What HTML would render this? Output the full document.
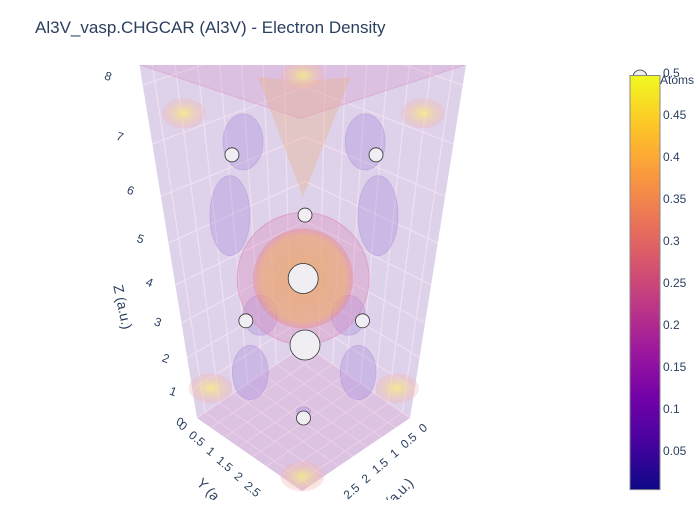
<!DOCTYPE html>
<html><head><meta charset="utf-8"><style>
html,body{margin:0;padding:0;background:#fff;}
svg text{font-family:"Liberation Sans",Arial,sans-serif;fill:#2a3f5f;}
</style></head><body>
<svg id="chart" width="700" height="500" viewBox="0 0 700 500" xmlns="http://www.w3.org/2000/svg">
<defs>
<linearGradient id="plasma" x1="0" y1="1" x2="0" y2="0">
<stop offset="0" stop-color="#0d0887"/><stop offset="0.111" stop-color="#46039f"/><stop offset="0.222" stop-color="#7201a8"/><stop offset="0.333" stop-color="#9c179e"/><stop offset="0.444" stop-color="#bd3786"/><stop offset="0.555" stop-color="#d8576b"/><stop offset="0.666" stop-color="#ed7953"/><stop offset="0.777" stop-color="#fb9f3a"/><stop offset="0.888" stop-color="#fdca26"/><stop offset="1" stop-color="#f0f921"/>
</linearGradient>
<radialGradient id="orangeG"><stop offset="0" stop-color="#e9a868" stop-opacity="0.75"/><stop offset="0.85" stop-color="#eeaa6a" stop-opacity="0.6"/><stop offset="1" stop-color="#e38a9a" stop-opacity="0.5"/></radialGradient>
<radialGradient id="yellowG"><stop offset="0" stop-color="#f7ef80" stop-opacity="0.8"/><stop offset="1" stop-color="#efb0b8" stop-opacity="0.3"/></radialGradient>
<clipPath id="sceneClip"><rect x="0" y="65" width="600" height="435"/></clipPath>
</defs>
<text x="35" y="33" font-size="17">Al3V_vasp.CHGCAR (Al3V) - Electron Density</text>
<g id="scene" clip-path="url(#sceneClip)"></g>
<g id="axes"></g>
<g id="legend">
<circle cx="640" cy="77" r="7" fill="#f0eef2" stroke="#333" stroke-width="0.8"/>
<text x="660" y="84" font-size="12">Atoms</text>
</g>
<g id="colorbar"></g>
</svg>
<script>
const A = 3.78, C = 8.32;
const zTicks = [0,1,2,3,4,5,6,7,8];
const xyTicks = [0,0.5,1,1.5,2,2.5];
const xyTickLabels = ["0","0.5","1","1.5","2","2.5"];
const atomFracX = [0,0.5,0.5,0,0,0.5,0,0.5];
const atomFracY = [0,0.5,0.5,0,0.5,0,0.5,0];
const atomFracZ = [0,0.5,0,0.5,0.25,0.25,0.75,0.75];
const atomKind = ["V","V","Al","Al","Al","Al","Al","Al"];
const cbTicks = [0.05,0.1,0.15,0.2,0.25,0.3,0.35,0.4,0.45,0.5];
const cbTickLabels = ["0.05","0.1","0.15","0.2","0.25","0.3","0.35","0.4","0.45","0.5"];
const cbMin = 0.004, cbMax = 0.497;
// isosurface blobs (fractional coords) – purple lobes and yellow corner caps
const lobeFx = [0.42,0,0.55,0,0.38,0,0.5,0,0.5];
const lobeFy = [0,0.42,0,0.55,0,0.38,0,0.5,0.5];
const lobeFz = [0.77,0.77,0.6,0.6,0.24,0.24,0.04,0.04,0.03];
const lobeRx = [20,20,20,20,17,17,18,18,7];
const lobeRy = [28,28,40,40,20,20,27,27,4];
const capFx = [0.78,0,0.85,0,0.9,0.5];
const capFy = [0,0.78,0,0.85,0.9,0.5];
const capFz = [0.88,0.88,0.08,0.08,0,0.98];

const NS = "http://www.w3.org/2000/svg";
function P(x,y,z){ const a=x/A, b=y/A; const D=1-0.0418*z;
  return [305+(-108*a+105*b)/D, 418-27.7*z/D+(a+b-1)*(73-2.3*z)]; }
function PF(fa,fb,fc){ return P(fa*A,fb*A,fc*C); }
function mk(tag,attrs,parent){ const e=document.createElementNS(NS,tag); for(const k in attrs) e.setAttribute(k,attrs[k]); parent.appendChild(e); return e; }
function poly(pts){ return pts.map(p=>p[0].toFixed(1)+","+p[1].toFixed(1)).join(" "); }
const scene=document.getElementById('scene'), axes=document.getElementById('axes'), cb=document.getElementById('colorbar');

let e;
e=mk('polygon',{points:poly([P(0,0,0),P(A,0,0),P(A,0,C),P(0,0,C)]),fill:'#e5ecf6'},scene);
 
e=mk('polygon',{points:poly([P(0,0,0),P(0,A,0),P(0,A,C),P(0,0,C)]),fill:'#e5ecf6'},scene);
 
e=mk('polygon',{points:poly([P(0,0,0),P(A,0,0),P(A,A,0),P(0,A,0)]),fill:'#e5ecf6'},scene);
 
const grid=mk('g',{stroke:'#ffffff','stroke-width':1.2,fill:'none'},scene);
 
zTicks.forEach(z=>{ const p=[P(A,0,z),P(0,0,z),P(0,A,z)]; mk('polyline',{points:poly(p)},grid); });
[0.5,1,1.5,2,2.5,3,3.5].forEach(v=>{
  mk('line',{x1:P(v,0,0)[0],y1:P(v,0,0)[1],x2:P(v,0,C)[0],y2:P(v,0,C)[1]},grid);
  mk('line',{x1:P(0,v,0)[0],y1:P(0,v,0)[1],x2:P(0,v,C)[0],y2:P(0,v,C)[1]},grid);
  mk('line',{x1:P(v,0,0)[0],y1:P(v,0,0)[1],x2:P(v,A,0)[0],y2:P(v,A,0)[1]},grid);
  mk('line',{x1:P(0,v,0)[0],y1:P(0,v,0)[1],x2:P(A,v,0)[0],y2:P(A,v,0)[1]},grid);
});
e=mk('polygon',{points:poly([P(A,0,0),P(A,A,0),P(0,A,0),P(0,A,C),P(0,0,C),P(A,0,C)]),fill:'rgba(205,150,205,0.30)'},scene);
 
e=mk('polygon',{points:poly([P(A,0,C),P(A,A,C),P(0,A,C),P(0,0,C)]),fill:'rgba(215,140,200,0.25)',stroke:'rgba(220,150,200,0.5)'},scene);
 
e=mk('polygon',{points:poly([P(A,0,0),P(A,A,0),P(0,A,0),P(0,0,0)]),fill:'rgba(215,140,200,0.22)'},scene);
 
e=mk('polygon',{points:poly([PF(0.3,0,0.9),PF(0.32,0.32,0.93),PF(0,0.3,0.9),PF(0.5,0.5,0.72)]),fill:'rgba(235,175,130,0.35)'},scene);
 
for(let i=0;i<lobeFx.length;i++){ const p=PF(lobeFx[i],lobeFy[i],lobeFz[i]);
  e=mk('ellipse',{cx:p[0],cy:p[1],rx:lobeRx[i],ry:lobeRy[i],fill:'rgba(170,140,220,0.35)',stroke:'rgba(160,120,210,0.3)'},scene);
    }
for(let i=0;i<capFx.length;i++){ const p=PF(capFx[i],capFy[i],capFz[i]);
  e=mk('ellipse',{cx:p[0],cy:p[1],rx:22,ry:15,fill:'url(#yellowG)'},scene);
    }
const cc=PF(0.5,0.5,0.5);
e=mk('circle',{cx:cc[0],cy:cc[1],r:66,fill:'rgba(220,140,185,0.35)',stroke:'rgba(215,130,175,0.5)'},scene);
 
e=mk('circle',{cx:cc[0],cy:cc[1],r:50,fill:'url(#orangeG)'},scene);
 
for(let i=0;i<atomKind.length;i++){ const p=PF(atomFracX[i],atomFracY[i],atomFracZ[i]);
  e=mk('circle',{cx:p[0],cy:p[1],r:atomKind[i]==='V'?15:7,fill:'#f0eef2',stroke:'#333','stroke-width':0.8},scene);
    }

zTicks.forEach(z=>{ const p=P(A,0,z); const lx=p[0]-17-z*2.2, ly=p[1]+8-z*1.6;
  e=mk('text',{x:lx,y:ly,'font-size':12,'text-anchor':'middle',transform:`rotate(20 ${lx} ${ly-4})`},axes);
  e.textContent=String(z);   });
xyTicks.forEach((v,i)=>{ const p=P(A,v,0); const lx=p[0]-14, ly=p[1]+12+v*6;
  e=mk('text',{x:lx,y:ly,'font-size':12,'text-anchor':'middle',transform:`rotate(40 ${lx} ${ly-4})`},axes);
  e.textContent=xyTickLabels[i];  
  const q=P(v,A,0); const mx=q[0]+13, my=q[1]+14+v*6;
  e=mk('text',{x:mx,y:my,'font-size':12,'text-anchor':'middle',transform:`rotate(-40 ${mx} ${my-4})`},axes);
  e.textContent=xyTickLabels[i];   });
e=mk('text',{x:118,y:308,'font-size':14,'text-anchor':'middle',transform:'rotate(78 118 308)'},axes);
e.textContent='Z (a.u.)';  
e=mk('text',{x:212,y:500,'font-size':14,'text-anchor':'middle',transform:'rotate(45 212 500)'},axes);
e.textContent='Y (a.u.)';  
e=mk('text',{x:398,y:500,'font-size':14,'text-anchor':'middle',transform:'rotate(-45 398 500)'},axes);
e.textContent='X (a.u.)';  

function cy(v){ return 493-840*v; }
e=mk('rect',{x:630,y:cy(cbMax),width:30,height:cy(cbMin)-cy(cbMax),fill:'url(#plasma)',stroke:'#888','stroke-width':1},cb);
 
cbTicks.forEach((v,i)=>{ e=mk('text',{x:663,y:cy(v)+4,'font-size':12},cb);
  e.textContent=cbTickLabels[i];   });
</script>
</body></html>
